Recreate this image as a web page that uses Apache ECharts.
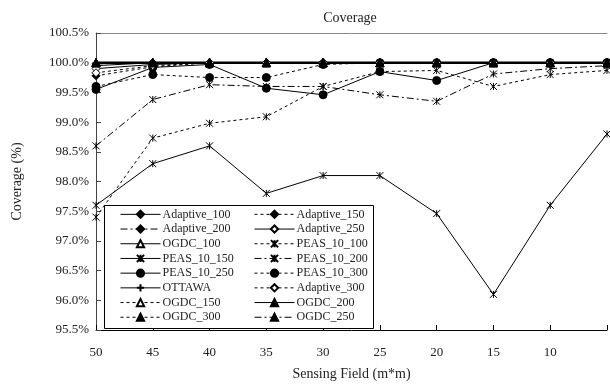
<!DOCTYPE html>
<html>
<head>
<meta charset="utf-8">
<script src="https://cdn.jsdelivr.net/npm/echarts@6/dist/echarts.min.js"></script>
<style>
  html, body { margin: 0; padding: 0; background: #fff; }
  #chart { width: 610px; height: 387px; }
</style>
</head>
<body>
<div id="chart"></div>
<script>
// Sensing field sizes (m*m), largest first
const fields = ['50', '45', '40', '35', '30', '25', '20', '15', '10', '5'];

// Coverage (%) per protocol configuration
const adaptive100 = [99.95, 100, 100, 100, 100, 100, 100, 100, 100, 100];
const adaptive150 = [99.78, 99.93, 100, 100, 100, 100, 100, 100, 100, 100];
const adaptive200 = [99.98, 100, 100, 100, 100, 100, 100, 100, 100, 100];
const adaptive250 = [99.9, 99.97, 100, 100, 100, 100, 100, 100, 100, 100];
const adaptive300 = [99.83, 99.95, 100, 100, 100, 100, 100, 100, 100, 100];
const ogdc100 = [100, 100, 100, 100, 100, 100, 100, 100, 100, 100];
const ogdc150 = [100, 100, 100, 100, 100, 100, 100, 100, 100, 100];
const ogdc200 = [100, 100, 100, 100, 100, 100, 100, 100, 100, 100];
const ogdc250 = [100, 100, 100, 100, 100, 100, 100, 100, 100, 100];
const ogdc300 = [100, 100, 100, 100, 100, 100, 100, 100, 100, 100];
const peas100 = [97.4, 98.73, 98.98, 99.09, 99.6, 99.85, 99.87, 99.6, 99.8, 99.87];
const peas150 = [97.6, 98.3, 98.6, 97.8, 98.1, 98.1, 97.46, 96.1, 97.6, 98.8];
const peas200 = [98.6, 99.38, 99.63, 99.6, 99.6, 99.46, 99.35, 99.81, 99.9, 99.95];
const peas250 = [99.55, 99.92, 99.97, 99.57, 99.46, 99.85, 99.7, 100, 100, 100];
const peas300 = [99.6, 99.8, 99.75, 99.75, 99.97, 100, 100, 100, 100, 100];
const ottawa = [100, 100, 100, 100, 100, 100, 100, 100, 100, 100];

// y-axis range and step (%)
const yMin = 95.5, yMax = 100.5, yStep = 0.5;

const SERIF = '"Liberation Serif", "DejaVu Serif", serif';
const INK = '#000';

const SYM_X = 'path://M0,0L10,10M10,0L0,10M5,0L5,10';
const SYM_PLUS = 'path://M5,0L5,10M0,5L10,5';

const SOLID = 'solid';
const DOTTED = [3, 3];
const DASHDOT = [7, 3, 2, 3];

function mk(name, data, dash, symbol, filled, size, width) {
  const stroked = symbol.indexOf('path://') === 0;
  return {
    name: name,
    type: 'line',
    data: data,
    symbol: symbol,
    symbolSize: size,
    showAllSymbol: true,
    lineStyle: { color: INK, width: width || 1, type: dash },
    itemStyle: {
      color: stroked ? INK : (filled ? INK : '#fff'),
      borderColor: INK,
      borderWidth: 1
    },
    emphasis: { disabled: true },
    animation: false,
    z: 2
  };
}

const series = [
  mk('Adaptive_100', adaptive100, SOLID, 'diamond', true, 8),
  mk('Adaptive_150', adaptive150, DOTTED, 'diamond', true, 8),
  mk('Adaptive_200', adaptive200, DASHDOT, 'diamond', true, 8),
  mk('Adaptive_250', adaptive250, SOLID, 'diamond', false, 8),
  mk('OGDC_100', ogdc100, SOLID, 'triangle', false, 8),
  mk('PEAS_10_100', peas100, DOTTED, SYM_X, true, 7),
  mk('PEAS_10_150', peas150, SOLID, SYM_X, true, 7),
  mk('PEAS_10_200', peas200, DASHDOT, SYM_X, true, 7),
  mk('PEAS_10_250', peas250, SOLID, 'circle', true, 8),
  mk('PEAS_10_300', peas300, DOTTED, 'circle', true, 8),
  mk('OTTAWA', ottawa, SOLID, SYM_PLUS, true, 7, 2.5),
  mk('Adaptive_300', adaptive300, DOTTED, 'diamond', false, 8),
  mk('OGDC_150', ogdc150, DOTTED, 'triangle', false, 8),
  mk('OGDC_200', ogdc200, SOLID, 'triangle', true, 8),
  mk('OGDC_300', ogdc300, DOTTED, 'triangle', true, 8),
  mk('OGDC_250', ogdc250, DASHDOT, 'triangle', true, 8)
];

// two legend columns, filled row by row; legend samples all use thin lines
const legendItems = series.map(s => ({ name: s.name, lineStyle: { width: 1 } }));
const leftItems = legendItems.filter((_, i) => i % 2 === 0);
const rightItems = legendItems.filter((_, i) => i % 2 === 1);

const legendBase = {
  orient: 'vertical',
  top: 207,
  padding: 0,
  itemWidth: 40,
  itemHeight: 9,
  itemGap: 0,
  selectedMode: false,
  textStyle: { fontFamily: SERIF, fontSize: 12, color: '#222', lineHeight: 14.7, padding: [0, 0, 0, -3] },
  z: 5
};

const chart = echarts.init(document.getElementById('chart'), null, { renderer: 'canvas' });
chart.setOption({
  backgroundColor: '#fff',
  animation: false,
  title: {
    text: 'Coverage',
    left: 345,
    top: 6,
    textAlign: 'center',
    textStyle: { fontFamily: SERIF, fontSize: 14, fontWeight: 'normal', color: '#222' }
  },
  grid: { left: 96, right: 0, top: 33, bottom: 57 },
  legend: [
    Object.assign({}, legendBase, { left: 120, data: leftItems }),
    Object.assign({}, legendBase, { left: 254, data: rightItems })
  ],
  graphic: [{
    type: 'rect',
    left: 104,
    top: 205,
    z: 4,
    shape: { width: 269, height: 123 },
    style: { fill: '#fff', stroke: '#000', lineWidth: 1 }
  }],
  xAxis: [{
    type: 'category',
    data: fields,
    boundaryGap: false,
    name: 'Sensing Field (m*m)',
    nameLocation: 'middle',
    nameGap: 37,
    nameTextStyle: { fontFamily: SERIF, fontSize: 14, color: '#222' },
    axisLine: { lineStyle: { color: '#000', width: 1 } },
    axisTick: { inside: true, length: 5, alignWithLabel: true, lineStyle: { color: '#000' } },
    axisLabel: {
      fontFamily: SERIF, fontSize: 13, color: '#222', margin: 16,
      formatter: (v, i) => (i === fields.length - 1 ? '' : v)
    },
    splitLine: { show: false }
  }, {
    type: 'category',
    data: fields,
    boundaryGap: false,
    position: 'top',
    axisLine: { lineStyle: { color: '#888', width: 1 } },
    axisTick: { show: false },
    axisLabel: { show: false },
    splitLine: { show: false }
  }],
  yAxis: {
    type: 'value',
    min: yMin,
    max: yMax,
    interval: yStep,
    name: 'Coverage (%)',
    nameLocation: 'middle',
    nameGap: 72,
    nameRotate: 90,
    nameTextStyle: { fontFamily: SERIF, fontSize: 14, color: '#222' },
    axisLine: { show: true, lineStyle: { color: '#444', width: 1 } },
    axisTick: { show: true, inside: true, length: 5, lineStyle: { color: '#444' } },
    axisLabel: {
      fontFamily: SERIF, fontSize: 13, color: '#222', margin: 7,
      formatter: v => v.toFixed(1) + '%'
    },
    splitLine: { show: false }
  },
  series: series
});
</script>
</body>
</html>
